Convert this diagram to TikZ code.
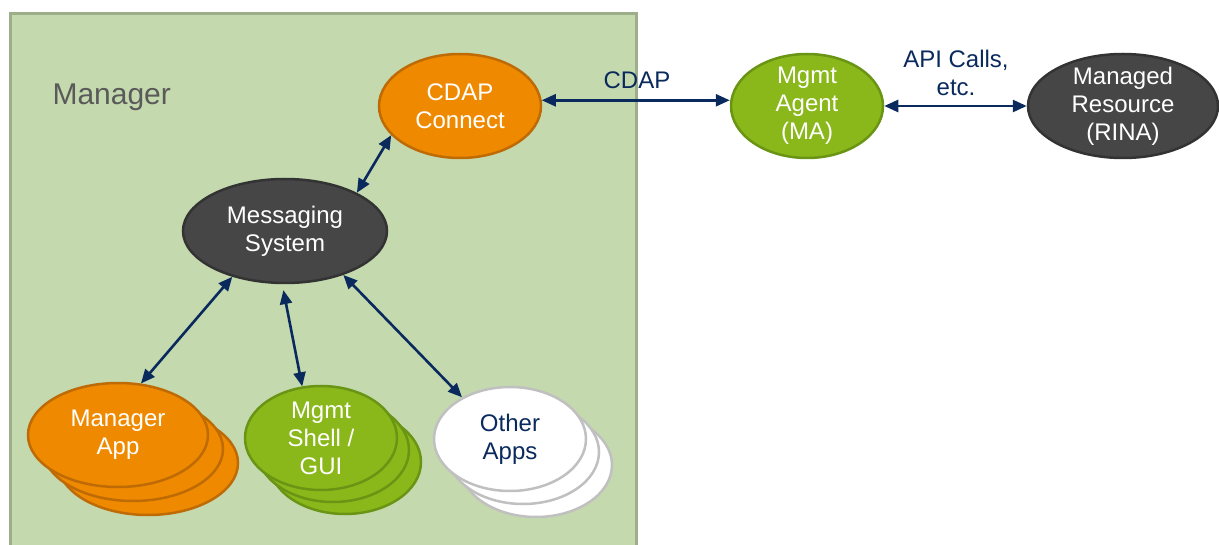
\documentclass[tikz,border=0pt]{standalone}
\usepackage{fontspec}
\setmainfont{Liberation Sans}
\usetikzlibrary{arrows.meta,shapes.geometric}

\definecolor{panelfill}{HTML}{C4D9AE}
\definecolor{paneledge}{HTML}{9CAF88}
\definecolor{orangefill}{HTML}{EF8A00}
\definecolor{orangeedge}{HTML}{BE6A05}
\definecolor{greenfill}{HTML}{8AB81A}
\definecolor{greenedge}{HTML}{6A9414}
\definecolor{darkfill}{HTML}{464646}
\definecolor{darkedge}{HTML}{333333}
\definecolor{lightedge}{HTML}{C0C0C0}
\definecolor{navy}{HTML}{0A2A5E}
\definecolor{titlegray}{HTML}{5A5A5A}

\tikzset{
  ell/.style={ellipse, inner sep=0pt, line width=2.5pt},
  txt/.style={font=\fontsize{24}{28}\selectfont, align=center},
  orangeell/.style={ell, fill=orangefill, draw=orangeedge},
  greenell/.style={ell, fill=greenfill, draw=greenedge},
  darkell/.style={ell, fill=darkfill, draw=darkedge},
  whiteell/.style={ell, fill=white, draw=lightedge},
  lbl/.style={txt, text=white},
  navylbl/.style={txt, text=navy},
  biarrow/.style={{Triangle[length=14pt,width=12pt]}-{Triangle[length=14pt,width=12pt]},
    line width=2.6pt, draw=navy},
}

\begin{document}
\begin{tikzpicture}[x=1pt,y=-1pt]
  \useasboundingbox (0,0) rectangle (1219,545);

  % Manager panel (runs off the bottom edge)
  \fill[panelfill] (10,14) rectangle (636,550);
  \draw[paneledge, line width=3pt] (10,550) -- (10,14) -- (636,14) -- (636,550);
  \node[anchor=west, text=titlegray, font=\fontsize{30}{34}\selectfont] (mgrtitle) at (49,97) {Manager};

  % Core nodes
  \node[orangeell, minimum width=162pt, minimum height=104pt,
        label={[lbl]center:CDAP\\Connect}] (cdap) at (460,106) {};
  \node[darkell, minimum width=204pt, minimum height=104pt,
        label={[lbl]center:Messaging\\System}] (msg) at (285,231) {};
  \node[greenell, minimum width=152pt, minimum height=104pt,
        label={[lbl]center:Mgmt\\Agent\\(MA)}] (ma) at (807,106) {};
  \node[darkell, minimum width=190pt, minimum height=104pt,
        label={[lbl]center:Managed\\Resource\\(RINA)}] (mr) at (1123,106) {};

  % Stacked application groups: two copies behind each front ellipse
  \node[orangeell, minimum width=180pt, minimum height=104pt] (mapp3) at (148,463) {};
  \node[orangeell, minimum width=180pt, minimum height=104pt] (mapp2) at (133,449) {};
  \node[orangeell, minimum width=180pt, minimum height=104pt,
        label={[lbl]center:Manager\\App}] (mapp) at (118,435) {};

  \node[greenell, minimum width=152pt, minimum height=104pt] (shell3) at (345,462) {};
  \node[greenell, minimum width=152pt, minimum height=104pt] (shell2) at (333,450) {};
  \node[greenell, minimum width=152pt, minimum height=104pt,
        label={[lbl]center:Mgmt\\Shell /\\GUI}] (shell) at (321,438) {};

  \node[whiteell, minimum width=152pt, minimum height=104pt] (other3) at (536,465) {};
  \node[whiteell, minimum width=152pt, minimum height=104pt] (other2) at (523,452) {};
  \node[whiteell, minimum width=152pt, minimum height=104pt,
        label={[navylbl]center:Other\\Apps}] (other) at (510,439) {};

  % Connectors
  \draw[biarrow] (msg.28) -- (cdap.203);
  \draw[biarrow] (msg.221) -- (mapp.66);
  \draw[biarrow, shorten <=6pt] (msg.267) -- (shell.110);
  \draw[biarrow] (msg.323) -- (other.139);
  \draw[biarrow] (cdap.4) -- (cdap.4 -| ma.west);
  \draw[biarrow] (ma.east) -- (mr.west);

  % Connector labels
  \node[navylbl] (cdaplbl) at (637,80) {CDAP};
  \node[navylbl] (apilbl) at (956,73) {API Calls,\\etc.};
\end{tikzpicture}
\end{document}
